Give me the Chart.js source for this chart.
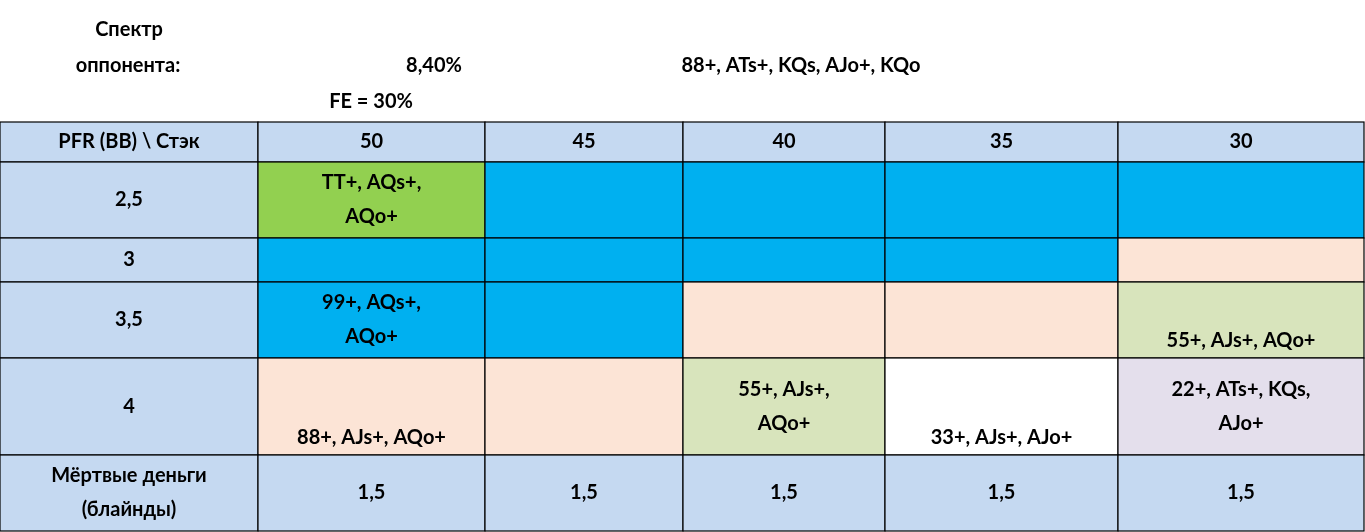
<!DOCTYPE html>
<html><head><meta charset="utf-8">
<script src="https://cdn.jsdelivr.net/npm/chart.js@4"></script>
<style>body{margin:0;background:#fff}canvas{display:block}</style>
</head><body>
<canvas id="c" width="1365" height="532"></canvas>
<script>
// ---- данные ----
const stacks = ["50", "45", "40", "35", "30"];
const pfrRows = ["2,5", "3", "3,5", "4"];
const cornerLabel = "PFR (BB) \\ Стэк";
const deadMoneyLabel = "Мёртвые деньги\n(блайнды)";
const deadMoney = ["1,5", "1,5", "1,5", "1,5", "1,5"];
const cellKinds = [
  ["green", "blue", "blue", "blue", "blue"],
  ["blue", "blue", "blue", "blue", "peach"],
  ["blue", "blue", "peach", "peach", "lgreen"],
  ["peach", "peach", "lgreen", "white", "lilac"]
];
const cellTexts = [
  ["TT+, AQs+,\nAQo+", "", "", "", ""],
  ["", "", "", "", ""],
  ["99+, AQs+,\nAQo+", "", "", "", "55+, AJs+, AQo+"],
  ["88+, AJs+, AQo+", "", "55+, AJs+,\nAQo+", "33+, AJs+, AJo+", "22+, ATs+, KQs,\nAJo+"]
];
const cellAlign = [
  ["c", "c", "c", "c", "c"],
  ["c", "c", "c", "c", "c"],
  ["c", "c", "c", "c", "b"],
  ["b", "c", "c", "b", "c"]
];
const spectrumLabel = ["Спектр", "оппонента:"];
const spectrumPct = "8,40%";
const spectrumRange = "88+, ATs+, KQs, AJo+, KQo";
const feLabel = "FE = 30%";

// ---- раскладка ----
const colEdges = [0, 258, 485, 683, 885, 1118, 1364];
const rowEdges = [122, 162, 238, 282, 358, 455, 531];
const colors = {
  head: "#C5D9F1", green: "#92D050", blue: "#00B0F0", peach: "#FCE4D6",
  lgreen: "#D8E4BC", white: "#FFFFFF", lilac: "#E4DFEC"
};
const FONT = "bold 20px Lato, 'Open Sans', sans-serif";

const tablePlugin = {
  id: "table",
  afterDraw(chart) {
    const ctx = chart.ctx, sx = chart.scales.x, sy = chart.scales.y;
    const X = v => sx.getPixelForValue(v), Y = v => sy.getPixelForValue(v);
    ctx.save();
    ctx.font = FONT;
    ctx.fillStyle = "#000";
    ctx.textBaseline = "middle";

    // шапка над таблицей
    ctx.textAlign = "center";
    ctx.fillText(spectrumLabel[0], X(129), Y(30));
    ctx.fillText(spectrumLabel[1], X(128), Y(66));
    ctx.fillText(spectrumPct, X(434), Y(66));
    ctx.fillText(spectrumRange, X(801), Y(66));
    ctx.fillText(feLabel, X(371), Y(102));

    const cell = (c, r, fill, text, align) => {
      const x0 = X(colEdges[c]), x1 = X(colEdges[c + 1]);
      const y0 = Y(rowEdges[r]), y1 = Y(rowEdges[r + 1]);
      ctx.fillStyle = fill;
      ctx.fillRect(x0, y0, x1 - x0, y1 - y0);
      ctx.strokeStyle = "#000";
      ctx.lineWidth = 1.2;
      ctx.strokeRect(x0, y0, x1 - x0, y1 - y0);
      if (!text) return;
      ctx.fillStyle = "#000";
      const lines = text.split("\n"), lh = 34;
      const cx = (x0 + x1) / 2;
      let start = align === "b" ? y1 - 17 - (lines.length - 1) * lh
                                : (y0 + y1) / 2 - (lines.length - 1) * lh / 2;
      lines.forEach((l, i) => ctx.fillText(l, cx, start + i * lh));
    };

    cell(0, 0, colors.head, cornerLabel, "c");
    stacks.forEach((s, i) => cell(i + 1, 0, colors.head, s, "c"));
    pfrRows.forEach((p, r) => {
      cell(0, r + 1, colors.head, p, "c");
      stacks.forEach((s, i) => cell(i + 1, r + 1, colors[cellKinds[r][i]], cellTexts[r][i], cellAlign[r][i]));
    });
    cell(0, 5, colors.head, deadMoneyLabel, "c");
    deadMoney.forEach((d, i) => cell(i + 1, 5, colors.head, d, "c"));
    ctx.restore();
  }
};

new Chart(document.getElementById("c"), {
  type: "scatter",
  data: { datasets: [{ data: [] }] },
  options: {
    responsive: false,
    animation: false,
    layout: { padding: 0 },
    plugins: { legend: { display: false }, tooltip: { enabled: false } },
    scales: {
      x: { type: "linear", min: 0, max: 1365, display: false },
      y: { type: "linear", min: 0, max: 532, reverse: true, display: false }
    }
  },
  plugins: [tablePlugin]
});
</script>
</body></html>
